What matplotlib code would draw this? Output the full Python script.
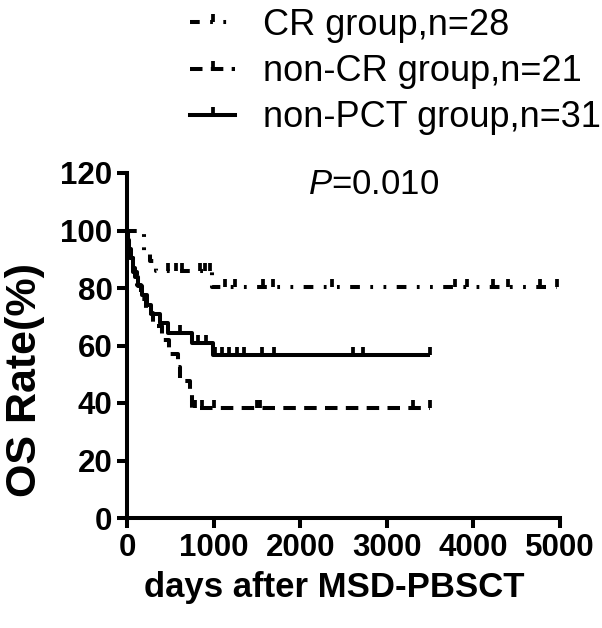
import numpy as np
import matplotlib
matplotlib.use("Agg")
import matplotlib.pyplot as plt
from matplotlib.lines import Line2D

plt.rcParams['font.family'] = ['Liberation Sans', 'DejaVu Sans']
plt.rcParams['mathtext.fontset'] = 'custom'
plt.rcParams['mathtext.rm'] = 'Liberation Sans'
plt.rcParams['mathtext.it'] = 'Liberation Sans:italic'
plt.rcParams['lines.scale_dashes'] = False

# CR group, n=28
cr_times = [200, 260, 330, 980]
cr_surv = [92.9, 89.3, 86.0, 80.3]
cr_censor = [474, 566, 635, 843, 900, 960, 1130, 1250, 1571, 1686, 2368,
             3788, 3927, 4227, 4400, 4770, 4966]
cr_end = 4966

# non-CR group, n=21
ncr_times = [15, 40, 70, 110, 160, 220, 300, 400, 485, 590, 610, 730, 745]
ncr_surv = [95.2, 90.5, 85.7, 81.0, 76.2, 71.4, 66.7, 61.9, 57.1, 52.4,
            47.6, 42.9, 38.1]
ncr_censor = [790, 870, 1000, 1500, 1540, 3300, 3500]
ncr_end = 3500

# non-PCT group, n=31
npct_times = [10, 25, 45, 65, 90, 130, 170, 230, 280, 380, 470, 750, 990]
npct_surv = [96.8, 93.5, 90.3, 87.1, 83.9, 80.6, 77.4, 74.2, 71.0, 67.7,
             64.5, 60.9, 56.8]
npct_censor = [612, 820, 910, 1020, 1100, 1180, 1270, 1350, 1560, 1700,
               2610, 2726, 3500]
npct_end = 3500

labels = ["CR group,n=28", "non-CR group,n=21", "non-PCT group,n=31"]
xticks = [0, 1000, 2000, 3000, 4000, 5000]
yticks = [0, 20, 40, 60, 80, 100, 120]

tick_mark = [(0, 0), (0, 1)]


def level_at(times, surv, t):
    """Survival value of the step curve at time t."""
    i = np.searchsorted(times, t, side='right') - 1
    return 100.0 if i < 0 else surv[i]


def km_curve(ax, times, surv, censor, end, ls):
    x = [0] + list(times) + [end]
    y = [100] + list(surv) + [surv[-1]]
    ax.plot(x, y, drawstyle='steps-post', color='black', lw=2.9, ls=ls,
            solid_capstyle='butt', dash_capstyle='butt')
    cy = [level_at(times, surv, t) for t in censor]
    ax.plot(censor, cy, ls='none', marker=tick_mark, ms=12, mew=2.7,
            color='black')


fig = plt.figure(figsize=(6.02, 6.28), dpi=100)
ax = fig.add_axes([127 / 602, 1 - 518 / 628, 433 / 602, 345 / 628])

styles = [(0, (7, 7.5, 2, 7.5, 2, 7.5)), (0, (9, 6)), '-']
km_curve(ax, cr_times, cr_surv, cr_censor, cr_end, styles[0])
km_curve(ax, ncr_times, ncr_surv, ncr_censor, ncr_end, styles[1])
km_curve(ax, npct_times, npct_surv, npct_censor, npct_end, styles[2])

ax.set_xlim(0, 5000)
ax.set_ylim(0, 120)
ax.set_xticks(xticks)
ax.set_yticks(yticks)
for s in ['top', 'right']:
    ax.spines[s].set_visible(False)
for s in ['left', 'bottom']:
    ax.spines[s].set_linewidth(2.9)
ax.tick_params(width=2.9, length=7.5, labelsize=22.5, pad=3)
for lab in ax.get_xticklabels() + ax.get_yticklabels():
    lab.set_fontweight('bold')

ax.set_xlabel("days after MSD-PBSCT", fontsize=25, fontweight='bold', va='center')
ax.xaxis.set_label_coords(0.478, -0.2)
ax.set_ylabel("OS Rate(%)", fontsize=31, fontweight='bold', va='center')
ax.yaxis.set_label_coords(-0.236, 0.4)

ax.text(2850, 116, r"$\mathit{P}$=0.010", fontsize=25, ha='center', va='center')

handles = [Line2D([], [], color='black', lw=2.9, ls=st, marker=tick_mark,
                  ms=12, mew=2.7) for st in styles]
fig.legend(handles, labels, loc='upper left', bbox_to_anchor=(190 / 602, 1 - 8 / 628),
           frameon=False, fontsize=26, handlelength=1.25, handletextpad=0.78,
           labelspacing=0.31, borderpad=0, borderaxespad=0, numpoints=1)

fig.savefig("out.png", dpi=100)
